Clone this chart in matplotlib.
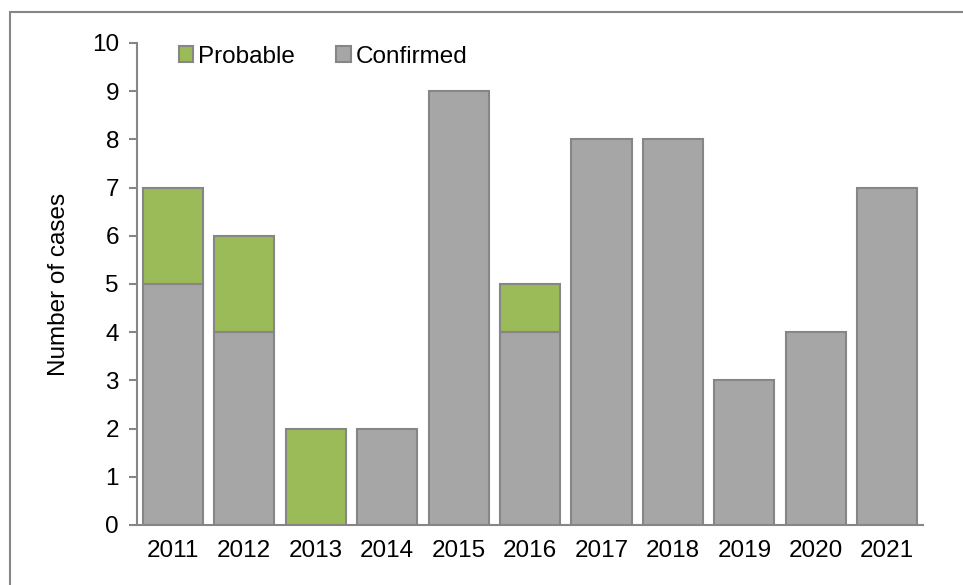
import matplotlib.pyplot as plt
import numpy as np
from matplotlib.patches import Rectangle

plt.rcParams['font.family'] = ['Liberation Sans', 'DejaVu Sans']

# datos
years = ['2011', '2012', '2013', '2014', '2015', '2016', '2017', '2018', '2019', '2020', '2021']
confirmed = [5, 4, 0, 2, 9, 4, 8, 8, 3, 4, 7]
probable = [2, 2, 2, 0, 0, 1, 0, 0, 0, 0, 0]

gris = '#A6A6A6'
verde = '#9BBB59'
borde = '#868686'
fs = 17.5

fig = plt.figure(figsize=(9.63, 5.85), dpi=100)
ax = fig.add_axes([0.1423, 0.1026, 0.8162, 0.8239])

x = np.arange(len(years))
conf_mask = np.array(confirmed) > 0
prob_mask = np.array(probable) > 0
ax.bar(x[conf_mask], np.array(confirmed)[conf_mask], width=0.84, color=gris,
       edgecolor=borde, linewidth=1.5, label='Confirmed', zorder=2)
ax.bar(x[prob_mask], np.array(probable)[prob_mask], width=0.84,
       bottom=np.array(confirmed)[prob_mask], color=verde,
       edgecolor=borde, linewidth=1.5, label='Probable', zorder=2)

ax.set_xlim(-0.5, len(years) - 0.5)
ax.set_ylim(0, 10)
ax.set_yticks(range(0, 11))
ax.set_xticks(x)
ax.set_xticklabels(years)
ax.tick_params(axis='x', length=0, labelsize=fs, pad=11)
ax.tick_params(axis='y', length=6, width=1.5, color=borde, labelsize=fs, pad=7)

for s in ['top', 'right']:
    ax.spines[s].set_visible(False)
for s in ['left', 'bottom']:
    ax.spines[s].set_color(borde)
    ax.spines[s].set_linewidth(1.5)

ax.set_ylabel('Number of cases', fontsize=fs, labelpad=16)

h, l = ax.get_legend_handles_labels()
ax.legend(h[::-1], l[::-1], ncol=2, frameon=False, fontsize=fs,
          loc='upper left', bbox_to_anchor=(0.025, 1.04),
          handlelength=0.6, handleheight=0.6, handletextpad=0.2, columnspacing=1.7)

# marco exterior
fig.patches.append(Rectangle((10 / 963, -0.1), 1.2, 1 - 12 / 585 + 0.1,
                             transform=fig.transFigure, fill=False,
                             edgecolor=borde, linewidth=1.5))

fig.savefig('out.png', dpi=100)
